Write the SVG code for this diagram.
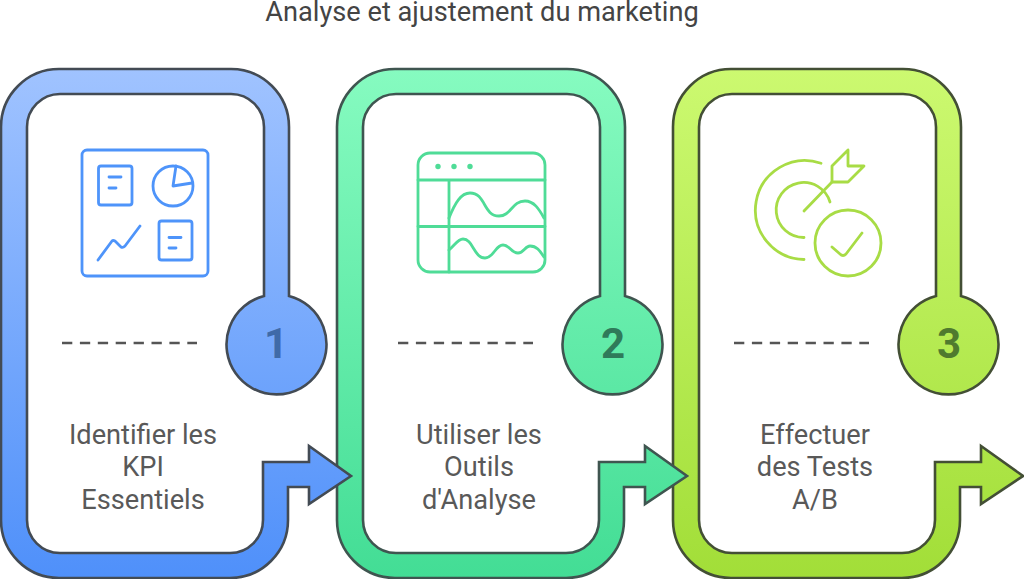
<svg xmlns="http://www.w3.org/2000/svg" width="1024" height="579" viewBox="0 0 1024 579">
<style>
.title{font:27.200px Roboto,"Liberation Sans",sans-serif;fill:#444;text-anchor:middle}
.lab{font:27.200px Roboto,"Liberation Sans",sans-serif;fill:#595959;text-anchor:middle}
.num{font:700 42px Roboto,"Liberation Sans",sans-serif;text-anchor:middle}
.frame{stroke-width:2.6;stroke-linejoin:miter}
.dash{stroke:#555;stroke-width:2.6;stroke-dasharray:10.300 7.600;fill:none}
.ic{fill:none;stroke-width:2.8;stroke-linecap:round;stroke-linejoin:round}
</style>
<defs>
<path id="shape" d="M264,296V127A33,33 0 0 0 231,94H60A33,33 0 0 0 27,127V520A33,33 0 0 0 60,553H230A33,33 0 0 0 263,520V462H309V446L351,476L309,504V487H288V520A58,58 0 0 1 230,578H59A58,58 0 0 1 1,520V127A58,58 0 0 1 59,69H231A58,58 0 0 1 289,127V296A50,50 0 1 1 264,296Z"/>
<linearGradient id="g1" gradientUnits="userSpaceOnUse" x1="0" y1="69" x2="0" y2="578"><stop offset="0" stop-color="#a0c3ff"/><stop offset="1" stop-color="#4f90fa"/></linearGradient>
<linearGradient id="g2" gradientUnits="userSpaceOnUse" x1="0" y1="69" x2="0" y2="578"><stop offset="0" stop-color="#86fbc0"/><stop offset="1" stop-color="#43dd95"/></linearGradient>
<linearGradient id="g3" gradientUnits="userSpaceOnUse" x1="0" y1="69" x2="0" y2="578"><stop offset="0" stop-color="#ccf970"/><stop offset="1" stop-color="#a2de38"/></linearGradient>
</defs>
<text class="title" x="482" y="21">Analyse et ajustement du marketing</text>
<g id="connectors">
<path class="dash" d="M62,343H197"/>
<path class="dash" d="M398,343H533"/>
<path class="dash" d="M734,343H869"/>
</g>
<g id="node-3">
<use href="#shape" x="672" fill="url(#g3)" stroke="#434f35" class="frame"/>
<text class="num" x="949" y="358" fill="#4f7a2e">3</text>
<g class="ic" stroke="#a8dc45">
<path d="M821,163.200A49.500,49.500 0 1 0 804,259.500"/>
<path d="M830,202A27.500,27.500 0 1 0 804,237.500"/>
<circle cx="848" cy="243" r="33"/>
<path d="M832,247L840,254Q843,257 846,254L862,233"/>
<path d="M804,211L832,182"/>
<path d="M848,150L832,166V182H848L864,166H848Z"/>
</g>
<text class="lab"><tspan x="815" y="444">Effectuer</tspan><tspan x="815" y="476">des Tests</tspan><tspan x="815" y="509">A/B</tspan></text>
</g>
<g id="node-2">
<use href="#shape" x="336" fill="url(#g2)" stroke="#3f5550" class="frame"/>
<text class="num" x="613" y="358" fill="#2f7a5a">2</text>
<g class="ic" stroke="#4fdc97">
<rect x="418" y="153" width="127" height="119" rx="12"/>
<path d="M418,180H545M418,226.500H545M449,180V272"/>
<path d="M449,218C455,203 461,193 470,193C486,193 483,216 499,216C511,216 512,201 525,201C534,201 539,209 544,218"/>
<path d="M449,250C455,245 458,239 463,239C473,239 474,258 485,258C494,258 495,245 503,245C510,245 511,253 518,253C524,253 525,246 530,246C537,246 540,251 544,257"/>
</g>
<g fill="#4fdc97"><circle cx="438" cy="166.500" r="2.700"/><circle cx="454" cy="166.500" r="2.700"/><circle cx="470" cy="166.500" r="2.700"/></g>
<text class="lab"><tspan x="479" y="444">Utiliser les</tspan><tspan x="479" y="476">Outils</tspan><tspan x="479" y="509">d'Analyse</tspan></text>
</g>
<g id="node-1">
<use href="#shape" fill="url(#g1)" stroke="#434b54" class="frame"/>
<text class="num" x="276" y="358" fill="#3f6aa8">1</text>
<g class="ic" stroke="#4e94fa">
<rect x="82" y="150" width="126" height="126" rx="5"/>
<rect x="98.500" y="166" width="33.500" height="39" rx="2.500"/>
<path d="M109,177H121M109,188H116"/>
<circle cx="173" cy="186" r="20"/>
<path d="M176,166L173,186L192,183"/>
<path d="M98,260L112,241Q113,240 115,241L121,247Q123,248 125,246L140,226"/>
<rect x="159" y="221" width="33" height="39" rx="2.500"/>
<path d="M169,237.500H181M169,248H176"/>
</g>
<text class="lab"><tspan x="143" y="444">Identifier les</tspan><tspan x="143" y="476">KPI</tspan><tspan x="143" y="509">Essentiels</tspan></text>
</g>
</svg>
